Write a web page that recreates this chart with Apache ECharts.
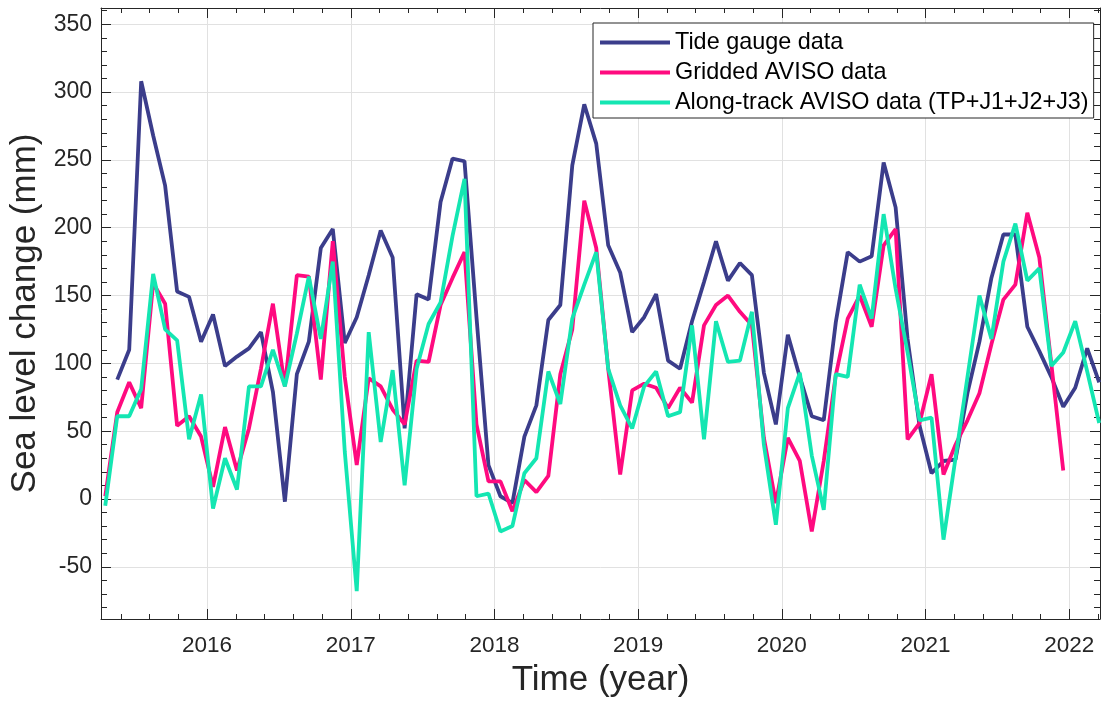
<!DOCTYPE html>
<html>
<head>
<meta charset="utf-8">
<script src="https://cdn.jsdelivr.net/npm/echarts@6/dist/echarts.min.js"></script>
<style>
html,body{margin:0;padding:0;background:#fff;}
#chart{width:1101px;height:707px;}
</style>
</head>
<body>
<div id="chart"></div>
<script>
// Monthly epochs (mid-month)
const months = [
  '2015-04','2015-05','2015-06','2015-07','2015-08','2015-09','2015-10','2015-11','2015-12',
  '2016-01','2016-02','2016-03','2016-04','2016-05','2016-06','2016-07','2016-08','2016-09','2016-10','2016-11','2016-12',
  '2017-01','2017-02','2017-03','2017-04','2017-05','2017-06','2017-07','2017-08','2017-09','2017-10','2017-11','2017-12',
  '2018-01','2018-02','2018-03','2018-04','2018-05','2018-06','2018-07','2018-08','2018-09','2018-10','2018-11','2018-12',
  '2019-01','2019-02','2019-03','2019-04','2019-05','2019-06','2019-07','2019-08','2019-09','2019-10','2019-11','2019-12',
  '2020-01','2020-02','2020-03','2020-04','2020-05','2020-06','2020-07','2020-08','2020-09','2020-10','2020-11','2020-12',
  '2021-01','2021-02','2021-03','2021-04','2021-05','2021-06','2021-07','2021-08','2021-09','2021-10','2021-11','2021-12',
  '2022-01','2022-02','2022-03'
];

const tideGauge = [
  null, 88, 110, 308, 268, 231, 153, 149, 116,
  136, 98, 105, 111, 123, 79, -2, 92, 116, 185, 199, 115,
  134, 165, 198, 178, 52, 151, 147, 219, 251, 249, 134, 25,
  2, -3, 46, 69, 132, 143, 246, 291, 262, 187, 167, 123,
  134, 151, 102, 96, 131, 160, 190, 161, 174, 165, 93, 55,
  121, 90, 61, 58, 130, 182, 175, 179, 248, 215, 118, 54,
  19, 28, 29, 78, 116, 163, 195, 195, 127, 109, 90, 68,
  82, 111, 86
];

const griddedAviso = [
  2, 64, 86, 67, 159, 144, 54, 61, 46,
  9, 53, 21, 52, 96, 144, 83, 165, 164, 88, 190, 90,
  25, 89, 83, 66, 55, 102, 101, 143, 163, 182, 55, 13,
  13, -9, 14, 5, 17, 92, 125, 220, 185, 96, 18, 80,
  85, 82, 67, 82, 71, 128, 143, 150, 138, 128, 45, -3,
  45, 28, -24, 28, 91, 133, 150, 127, 187, 199, 44, 56,
  92, 18, 40, 58, 78, 114, 147, 158, 211, 178, 100, 21,
  null, null, null
];

const alongTrackAviso = [
  -5, 61, 61, 81, 166, 125, 117, 44, 77,
  -7, 30, 7, 83, 83, 110, 83, 122, 164, 118, 175, 35,
  -68, 123, 42, 95, 10, 96, 129, 145, 194, 236, 2, 4,
  -24, -20, 19, 30, 94, 70, 133, 158, 182, 96, 69, 52,
  83, 94, 61, 64, 128, 44, 131, 101, 102, 138, 40, -19,
  67, 93, 32, -8, 92, 90, 158, 133, 210, 155, 108, 58,
  60, -30, 30, 90, 150, 118, 175, 203, 161, 170, 98, 108,
  131, 94, 56
];

const seriesNames = ['Tide gauge data', 'Gridded AVISO data', 'Along-track AVISO data (TP+J1+J2+J3)'];
const seriesColors = ['#3b3d8b', '#ff0a7f', '#14e6b2'];

const xTickValues = [2016, 2017, 2018, 2019, 2020, 2021, 2022];
const xTickLabels = ['2016', '2017', '2018', '2019', '2020', '2021', '2022'];
const yTickValues = [-50, 0, 50, 100, 150, 200, 250, 300, 350];
const yTickLabels = ['-50', '0', '50', '100', '150', '200', '250', '300', '350'];

const X_MIN = 2015.262, X_MAX = 2022.214;
const Y_MIN = -88.5, Y_MAX = 362;

function toYear(s) {
  const p = s.split('-').map(Number);
  return p[0] + (p[1] - 0.5) / 12;
}
function pairs(vals) {
  const out = [];
  months.forEach((m, i) => { if (vals[i] !== null && vals[i] !== undefined) out.push([toYear(m), vals[i]]); });
  return out;
}

// minor tick positions
const xMinor = [];
for (let k = 2015 * 5; k <= 2023 * 5; k++) { const v = k / 5; if (k % 5 !== 0 && v > X_MIN && v < X_MAX) xMinor.push(+v.toFixed(2)); }
const yMinor = [];
for (let v = -80; v <= 360; v += 10) { if (v % 50 !== 0) yMinor.push(v); }

const FONT = 'Liberation Sans, Arial, Helvetica, sans-serif';
const AX = '#262626';
const GRIDC = '#e1e1e1';

function tickAxis(dim, pos, values, len, showLine, extra) {
  const base = {
    type: 'value', position: pos,
    min: dim === 'x' ? X_MIN : Y_MIN, max: dim === 'x' ? X_MAX : Y_MAX,
    axisLine: { show: showLine, onZero: false, lineStyle: { color: AX, width: 1 } },
    axisTick: { show: true, inside: true, length: len, customValues: values, lineStyle: { color: AX, width: 1 } },
    axisLabel: { show: false },
    splitLine: { show: false },
    minorTick: { show: false },
    axisPointer: { show: false }
  };
  return Object.assign(base, extra || {});
}

const chart = echarts.init(document.getElementById('chart'), null, { renderer: 'canvas' });

const option = {
  animation: false,
  backgroundColor: '#ffffff',
  textStyle: { fontFamily: FONT },
  grid: { left: 101, right: 1, top: 8, bottom: 88, containLabel: false, outerBoundsMode: 'none' },
  legend: {
    show: true,
    data: seriesNames,
    orient: 'vertical',
    left: 593, top: 23,
    padding: [8, 5, 4, 7],
    itemGap: 7,
    itemWidth: 70, itemHeight: 4,
    icon: 'rect',
    backgroundColor: '#ffffff',
    borderColor: AX, borderWidth: 1, borderRadius: 0,
    textStyle: { fontSize: 23.4, color: '#000', fontFamily: FONT },
    selectedMode: false
  },
  xAxis: [
    tickAxis('x', 'bottom', xTickValues, 10, true, {
      axisLabel: { show: true, customValues: xTickValues, formatter: v => xTickLabels[xTickValues.indexOf(Math.round(v))], fontSize: 22.5, color: AX, margin: 15, fontFamily: FONT },
      splitLine: { show: true, lineStyle: { color: GRIDC, width: 1 } },
      name: 'Time (year)', nameLocation: 'middle', nameGap: 44,
      nameTextStyle: { fontSize: 35, color: AX, fontFamily: FONT }
    }),
    tickAxis('x', 'bottom', xMinor, 5, false),
    tickAxis('x', 'top', xTickValues, 10, true),
    tickAxis('x', 'top', xMinor, 5, false)
  ],
  yAxis: [
    tickAxis('y', 'left', yTickValues, 10, true, {
      axisLabel: { show: true, customValues: yTickValues, formatter: v => yTickLabels[yTickValues.indexOf(Math.round(v))], fontSize: 23, color: AX, margin: 9, fontFamily: FONT },
      splitLine: { show: true, lineStyle: { color: GRIDC, width: 1 } },
      name: 'Sea level change (mm)', nameLocation: 'middle', nameGap: 51, nameRotate: 90,
      nameTextStyle: { fontSize: 35, color: AX, fontFamily: FONT }
    }),
    tickAxis('y', 'left', yMinor, 6, false),
    tickAxis('y', 'right', yTickValues, 10, true),
    tickAxis('y', 'right', yMinor, 6, false)
  ],
  series: [
    { name: seriesNames[0], type: 'line', data: pairs(tideGauge), showSymbol: false, symbol: 'none', clip: true,
      lineStyle: { color: seriesColors[0], width: 3.8 }, itemStyle: { color: seriesColors[0] }, z: 3 },
    { name: seriesNames[1], type: 'line', data: pairs(griddedAviso), showSymbol: false, symbol: 'none', clip: true,
      lineStyle: { color: seriesColors[1], width: 3.8 }, itemStyle: { color: seriesColors[1] }, z: 4 },
    { name: seriesNames[2], type: 'line', data: pairs(alongTrackAviso), showSymbol: false, symbol: 'none', clip: true,
      lineStyle: { color: seriesColors[2], width: 3.8 }, itemStyle: { color: seriesColors[2] }, z: 5 }
  ]
};
chart.setOption(option);
</script>
</body>
</html>
